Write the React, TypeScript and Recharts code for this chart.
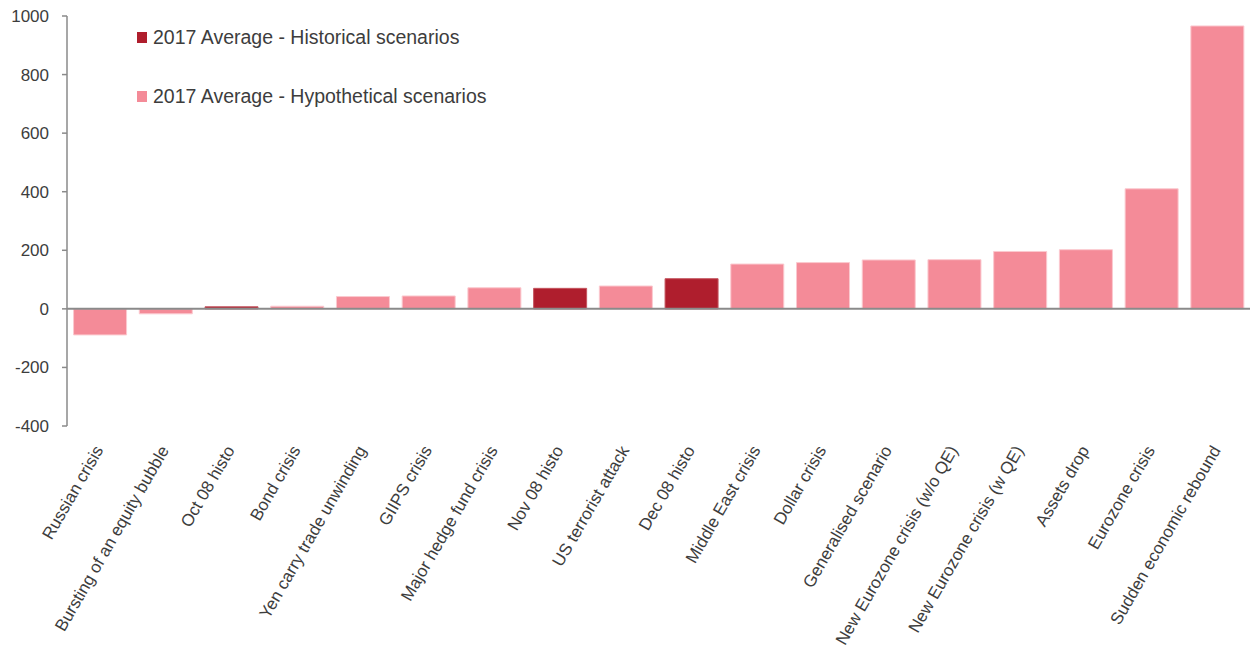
import { Bar, BarChart, Cell, Legend, ReferenceLine, XAxis, YAxis } from "recharts";

const categories = [
  "Russian crisis",
  "Bursting of an equity bubble",
  "Oct 08 histo",
  "Bond crisis",
  "Yen carry trade unwinding",
  "GIIPS crisis",
  "Major hedge fund crisis",
  "Nov 08 histo",
  "US terrorist attack",
  "Dec 08 histo",
  "Middle East crisis",
  "Dollar crisis",
  "Generalised scenario",
  "New Eurozone crisis (w/o QE)",
  "New Eurozone crisis (w QE)",
  "Assets drop",
  "Eurozone crisis",
  "Sudden economic rebound",
];

const values = [-89, -17, 7, 9, 42, 44, 72, 70, 78, 103, 153, 158, 167, 168, 196, 202, 410, 966];

// "hist" = historical scenario, "hypo" = hypothetical scenario
const kinds = [
  "hypo", "hypo", "hist", "hypo", "hypo", "hypo", "hypo", "hist", "hypo",
  "hist", "hypo", "hypo", "hypo", "hypo", "hypo", "hypo", "hypo", "hypo",
];

const legendLabels = {
  hist: "2017 Average - Historical scenarios",
  hypo: "2017 Average - Hypothetical scenarios",
};

const yTicks = [-400, -200, 0, 200, 400, 600, 800, 1000];

const COLORS = { hist: "#af1e2d", hypo: "#f48b98" };
const STROKES = { hist: "#c4555f", hypo: "#fbc9cf" };

const FONT = "'Liberation Sans', Arial, sans-serif";
const TEXT = "#3d3d3d";
const AXIS = "#8a8a8a";

const data = categories.map((name, i) => ({ name, value: values[i], kind: kinds[i] }));

function XTick(props: any) {
  const { x, y, payload } = props;
  const tx = x + 4;
  const ty = y + 16;
  return (
    <text
      x={tx}
      y={ty}
      transform={`rotate(-60, ${tx}, ${ty})`}
      textAnchor="end"
      fontSize={17}
      fontFamily={FONT}
      fill={TEXT}
    >
      {payload.value}
    </text>
  );
}

function ScenarioLegend() {
  return (
    <div style={{ fontFamily: FONT, fontSize: 19.5, color: TEXT }}>
      {(["hist", "hypo"] as const).map((k, i) => (
        <div
          key={k}
          style={{
            display: "flex",
            alignItems: "center",
            height: 22,
            marginTop: i === 0 ? 0 : 37,
            whiteSpace: "nowrap",
          }}
        >
          <span
            style={{
              display: "inline-block",
              width: 10,
              height: 11,
              background: COLORS[k],
              marginRight: 6,
            }}
          />
          {legendLabels[k]}
        </div>
      ))}
    </div>
  );
}

export default function App() {
  return (
    <div style={{ position: "absolute", left: 0, top: 0, width: 1253, height: 657, background: "#fff" }}>
      <BarChart
        width={1253}
        height={657}
        data={data}
        margin={{ top: 16, right: 3, left: 0, bottom: 0 }}
        barCategoryGap="10%"
        accessibilityLayer={false}
      >
        <XAxis
          dataKey="name"
          height={231}
          interval={0}
          axisLine={false}
          tickLine={false}
          tick={<XTick />}
        />
        <YAxis
          width={67}
          domain={[-400, 1000]}
          ticks={yTicks}
          tickSize={5}
          tickMargin={13}
          axisLine={{ stroke: AXIS, strokeWidth: 1.5 }}
          tickLine={{ stroke: AXIS, strokeWidth: 1.5 }}
          tick={{ fill: TEXT, fontSize: 17, fontFamily: FONT }}
        />
        <Legend
          layout="vertical"
          align="center"
          verticalAlign="middle"
          wrapperStyle={{ top: 26, left: 137, width: 420 }}
          content={<ScenarioLegend />}
        />
        <Bar dataKey="value" isAnimationActive={false}>
          {data.map((d) => (
            <Cell
              key={d.name}
              fill={COLORS[d.kind as keyof typeof COLORS]}
              stroke={STROKES[d.kind as keyof typeof STROKES]}
              strokeWidth={1}
            />
          ))}
        </Bar>
        <ReferenceLine y={0} stroke={AXIS} strokeWidth={2} />
      </BarChart>
    </div>
  );
}
